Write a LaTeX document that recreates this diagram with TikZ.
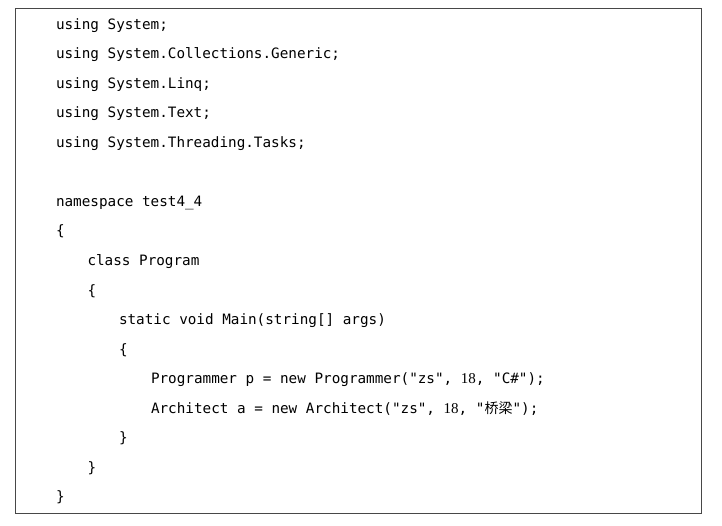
\documentclass[tikz,border=0pt]{standalone}
\usepackage{fontspec}
\setmonofont{DejaVu Sans Mono}
\newfontfamily\numserif{Liberation Serif}
\newfontfamily\cjk{Noto Sans CJK SC}
\begin{document}
\begin{tikzpicture}[x=1pt,y=-1pt]
\tikzset{
  codeline/.style={anchor=base west,inner sep=0pt,outer sep=0pt,
    font=\ttfamily\fontsize{14.3}{14.3}\selectfont,text=black},
  framebox/.style={draw=black!72,line width=1pt}
}
\useasboundingbox (0,0) rectangle (722,526);
\draw[framebox] (15,9) rectangle (701,513);
\node[codeline] (l1)  at (56,29.5)  {using System;};
\node[codeline] (l2)  at (56,59)    {using System.Collections.Generic;};
\node[codeline] (l3)  at (56,88.5)  {using System.Linq;};
\node[codeline] (l4)  at (56,118)   {using System.Text;};
\node[codeline] (l5)  at (56,147.5) {using System.Threading.Tasks;};
\node[codeline] (l7)  at (56,206.5) {namespace test4\_4};
\node[codeline] (l8)  at (56,236)   {\{};
\node[codeline] (l9)  at (87.5,265.5) {class Program};
\node[codeline] (l10) at (87.5,295)   {\{};
\node[codeline] (l11) at (119,324.5)  {static void Main(string[] args)};
\node[codeline] (l12) at (119,354)    {\{};
\node[codeline] (l13) at (151,383.5)  {Programmer p = new Programmer("zs", {\numserif\fontsize{15}{15}\selectfont 18}, "C\#");};
\node[codeline] (l14) at (151,413)    {Architect a = new Architect("zs", {\numserif\fontsize{15}{15}\selectfont 18}, "{\cjk\fontsize{14}{14}\selectfont 桥梁}");};
\node[codeline] (l15) at (119,442.5)  {\}};
\node[codeline] (l16) at (87.5,472)   {\}};
\node[codeline] (l17) at (56,501.5)   {\}};
\end{tikzpicture}
\end{document}
